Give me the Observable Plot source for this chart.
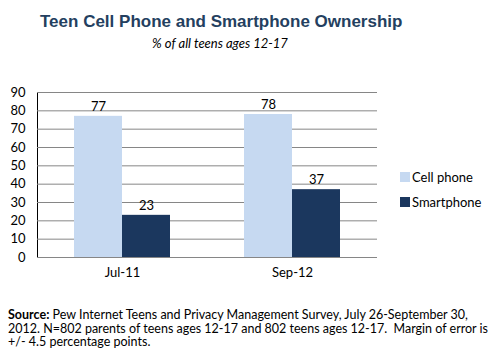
<!DOCTYPE html>
<html>
<head>
<meta charset="utf-8">
<script src="https://cdn.jsdelivr.net/npm/d3@7"></script>
<script src="https://cdn.jsdelivr.net/npm/@observablehq/plot@0.6"></script>
<style>
  html, body { margin: 0; padding: 0; background: #fff; }
  #wrap { position: relative; width: 496px; height: 364px; overflow: hidden; font-family: Lato, "Open Sans", sans-serif; }
  #title { position: absolute; left: 40px; top: 12px; font-family: "Liberation Sans", Arial, sans-serif; font-weight: bold; font-size: 17px; color: #243f60; white-space: nowrap; }
  #subtitle { position: absolute; left: 0; width: 440px; text-align: center; top: 35px; font-style: italic; font-size: 13px; color: #000; }
  #legend { position: absolute; left: 400px; top: 164px; font-size: 13px; color: #000; }
  .li { display: flex; align-items: center; height: 25px; }
  .sw { width: 10px; height: 10px; margin-right: 2px; }
  #source { position: absolute; left: 8px; top: 308px; font-size: 12.5px; color: #000; white-space: nowrap; }
  #source div { height: 13.6px; line-height: 13.6px; }
  #chart { position: absolute; left: 0; top: 0; }
</style>
</head>
<body>
<div id="wrap">
  <div id="chart"></div>
  <div id="title">Teen Cell Phone and Smartphone Ownership</div>
  <div id="subtitle">% of all teens ages 12-17</div>
  <div id="legend"></div>
  <div id="source"><div><b>Source:</b> Pew Internet Teens and Privacy Management Survey, July 26-September 30,</div><div>2012. N=802 parents of teens ages 12-17 and 802 teens ages 12-17.&nbsp; Margin of error is</div><div>+/- 4.5 percentage points.</div></div>
</div>
<script>
const periods = ["Jul-11", "Sep-12"];
const seriesNames = ["Cell phone", "Smartphone"];
const cellPhone = [77, 78];
const smartphone = [23, 37];
const colors = ["#c6d9f1", "#1b375e"];
const yTicks = [0, 10, 20, 30, 40, 50, 60, 70, 80, 90];

const rows = [];
periods.forEach((p, i) => {
  rows.push({period: p, series: seriesNames[0], value: cellPhone[i]});
  rows.push({period: p, series: seriesNames[1], value: smartphone[i]});
});

const chart = Plot.plot({
  width: 496,
  height: 364,
  marginLeft: 37,
  marginRight: 119,
  marginTop: 92,
  marginBottom: 107,
  style: {fontFamily: "Lato, 'Open Sans', sans-serif", fontSize: "13px", color: "#000", background: "transparent"},
  fx: {domain: periods, padding: 0, axis: "bottom", tickSize: 0, tickPadding: 10, label: null},
  x: {domain: seriesNames, paddingInner: 0, paddingOuter: 0.75, axis: null},
  y: {domain: [0, 90], ticks: yTicks, tickSize: 0, tickPadding: 12, label: null, line: true},
  color: {domain: seriesNames, range: colors},
  marks: [
    Plot.gridY(yTicks, {stroke: "#868686", strokeOpacity: 1}),
    Plot.barY(rows, {fx: "period", x: "series", y: "value", fill: "series"}),
    Plot.text(rows, {fx: "period", x: "series", y: "value", text: d => String(d.value), dy: -10, fill: "#000", fontSize: 13})
  ]
});
document.getElementById("chart").appendChild(chart);

const legend = document.getElementById("legend");
seriesNames.forEach((s, i) => {
  const row = document.createElement("div");
  row.className = "li";
  row.innerHTML = `<span class="sw" style="background:${colors[i]}"></span><span>${s}</span>`;
  legend.appendChild(row);
});
</script>
</body>
</html>
